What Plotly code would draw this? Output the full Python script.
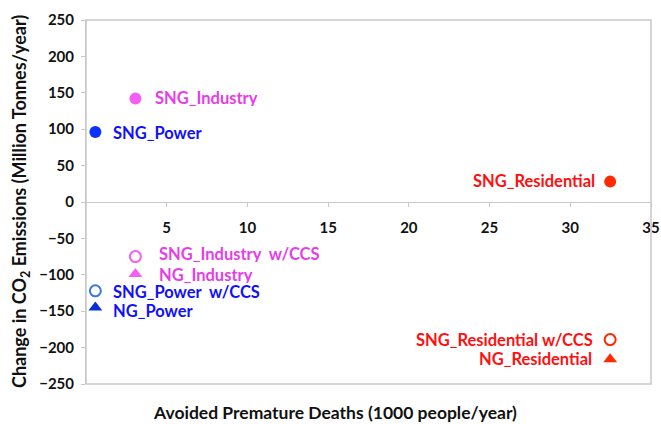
import plotly.graph_objects as go

# ---- data ----
names = ["SNG_Power", "SNG_Industry", "SNG_Residential",
         "SNG_Power  w/CCS", "SNG_Industry  w/CCS", "SNG_Residential w/CCS",
         "NG_Power", "NG_Industry", "NG_Residential"]
deaths = [0.58, 3.06, 32.47, 0.58, 3.06, 32.47, 0.58, 3.06, 32.47]
co2 = [96, 142, 28, -122, -75, -189, -145, -99, -216]
x_ticks = [5, 10, 15, 20, 25, 30, 35]
y_ticks = [-250, -200, -150, -100, -50, 0, 50, 100, 150, 200, 250]

# ---- styles ----
marker_colors = ["#0a32ff", "#f45ef4", "#ff2a00",
                 "#3a78e6", "#f45ef4", "#ff2a00",
                 "#0a2fd6", "#f45ef4", "#ff2a00"]
text_colors = ["#1010ff", "#e63ee6", "#ff1010",
               "#1010ff", "#e63ee6", "#ff1010",
               "#1010ff", "#e63ee6", "#ff1010"]
symbols = ["circle", "circle", "circle",
           "circle-open", "circle-open", "circle-open",
           "triangle-up", "triangle-up", "triangle-up"]
# label offsets (px): xshift, yshift, anchor
label_pos = [(17, 0, "left"), (19, 1, "left"), (-14, 1, "right"),
             (17, -1, "left"), (23, 3, "left"), (-16, 0, "right"),
             (17, -3, "left"), (23, 0, "left"), (-17, 1, "right")]

font = "Lato, Open Sans, sans-serif"

fig = go.Figure()
for i in range(len(names)):
    open_sym = symbols[i] == "circle-open"
    fig.add_trace(go.Scatter(
        x=[deaths[i]], y=[co2[i]], mode="markers",
        marker=dict(symbol=symbols[i], size=12 if not open_sym else 11,
                    color=marker_colors[i],
                    line=dict(width=2, color=marker_colors[i]) if open_sym else dict(width=0)),
        showlegend=False, hoverinfo="skip", cliponaxis=False))
    xs, ys, anc = label_pos[i]
    fig.add_annotation(x=deaths[i], y=co2[i], text="<b>%s</b>" % names[i],
                       showarrow=False, xanchor=anc, yanchor="middle",
                       xshift=xs, yshift=ys, height=17, borderpad=0,
                       font=dict(family=font, size=16.5, color=text_colors[i]))

fig.update_layout(
    width=661, height=424,
    margin=dict(l=86, r=10, t=20, b=40),
    paper_bgcolor="white", plot_bgcolor="rgba(0,0,0,0)",
    font=dict(family=font, size=14, color="#111111"),
    xaxis=dict(range=[0, 35], tickvals=x_ticks, showgrid=False, zeroline=False,
               showline=True, linecolor="#c8c8c8", linewidth=1,
               ticks="outside", ticklen=4, tickcolor="#c8c8c8",
               anchor="free", position=0.5, automargin=False,
               ticklabeloverflow="allow", ticklabelstandoff=8,
               tickfont=dict(family=font, size=15, weight="bold", color="#111111")),
    yaxis=dict(range=[-250, 250], tickvals=y_ticks, showgrid=False, zeroline=False,
               showline=True, linecolor="#c8c8c8", linewidth=1,
               ticks="outside", ticklen=4, tickcolor="#c8c8c8", automargin=False,
               ticklabelstandoff=4,
               tickfont=dict(family=font, size=15, weight="bold", color="#111111")),
)
fig.add_shape(type="rect", xref="paper", yref="paper", x0=0, x1=1, y0=0, y1=1,
              line=dict(color="#c8c8c8", width=1.5), layer="above")
fig.add_annotation(xref="paper", yref="paper", x=0.44, y=0, yshift=-28,
                   xanchor="center", yanchor="middle", showarrow=False,
                   text="<b>Avoided Premature Deaths (1000 people/year)</b>",
                   font=dict(family=font, size=17.5, color="#111111"))
fig.add_annotation(xref="paper", yref="paper", x=0, y=0.5, xshift=-66,
                   xanchor="center", yanchor="middle", showarrow=False, textangle=-90,
                   text="<b>Change in CO<sub>2</sub> Emissions (Million Tonnes/year)</b>",
                   font=dict(family=font, size=18, color="#111111"))

fig.write_html("out.html", config={"displayModeBar": False},
               post_script="document.body.style.margin='0';document.body.style.overflow='hidden';")
